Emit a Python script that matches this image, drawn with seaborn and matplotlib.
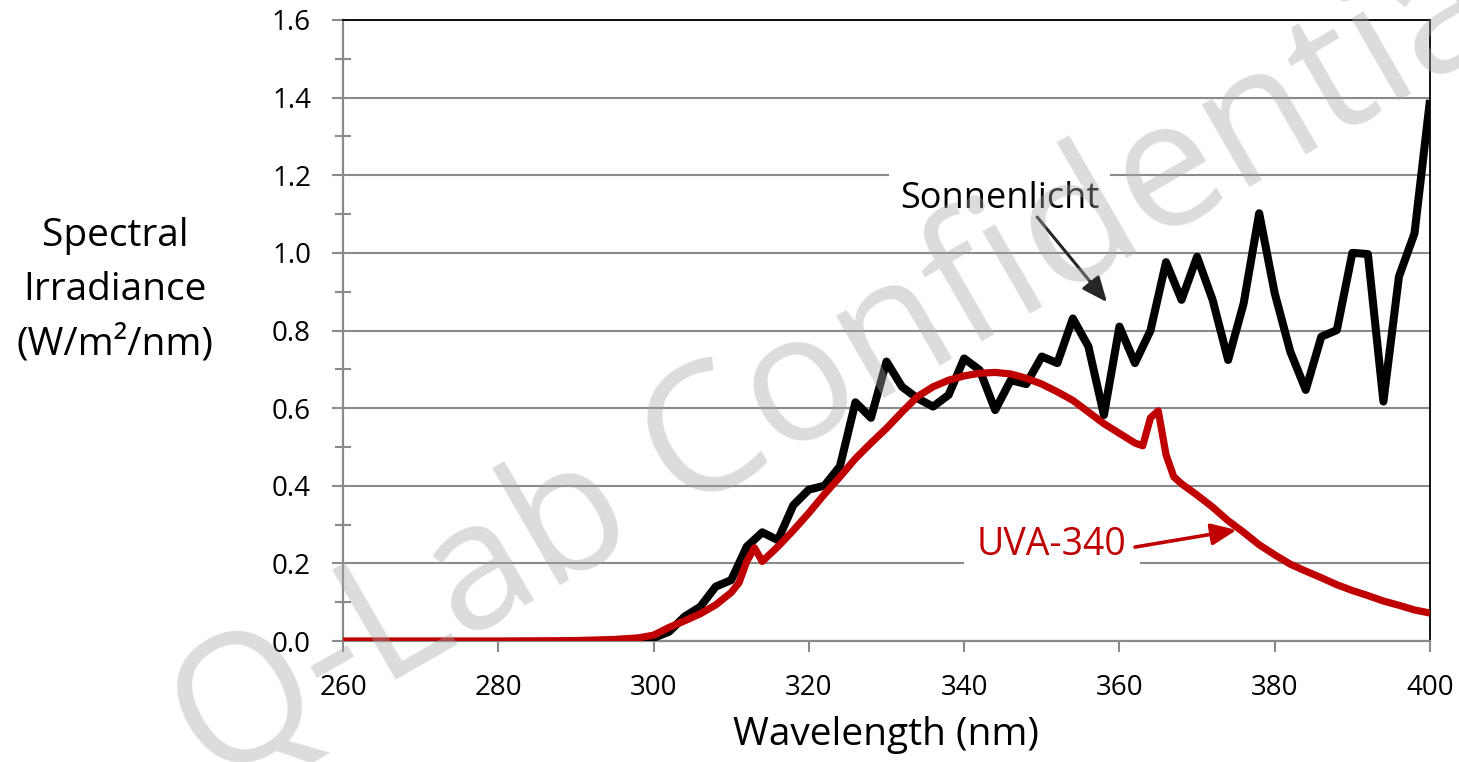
import matplotlib
matplotlib.use("Agg")
import matplotlib.pyplot as plt
import seaborn as sns
import pandas as pd
from matplotlib.ticker import MultipleLocator, FormatStrFormatter

# ---------------- data ----------------
sun_nm = [290, 292, 294, 296, 298, 300, 302, 304, 306, 308, 310, 312, 314, 316, 318,
          320, 322, 324, 326, 328, 330, 332, 334, 336, 338, 340, 342, 344, 346, 348,
          350, 352, 354, 356, 358, 360, 362, 364, 366, 368, 370, 372, 374, 376, 378,
          380, 382, 384, 386, 388, 390, 392, 394, 396, 398, 400]
sun_val = [0.0, 0.0, 0.0, 0.001, 0.003, 0.008, 0.024, 0.063, 0.088, 0.14, 0.157, 0.243,
           0.28, 0.26, 0.35, 0.39, 0.40, 0.45, 0.615, 0.575, 0.72, 0.655, 0.625, 0.604,
           0.634, 0.728, 0.698, 0.595, 0.672, 0.662, 0.733, 0.716, 0.831, 0.759, 0.582,
           0.81, 0.716, 0.80, 0.976, 0.879, 0.99, 0.879, 0.724, 0.87, 1.102, 0.896,
           0.746, 0.647, 0.784, 0.801, 1.0, 0.997, 0.617, 0.939, 1.05, 1.394]

uva_nm = [260, 270, 280, 290, 295, 298, 300, 302, 304, 306, 308, 310, 311, 312, 313,
          314, 316, 318, 320, 322, 324, 326, 328, 330, 332, 334, 336, 338, 340, 342,
          344, 346, 348, 350, 352, 354, 356, 358, 360, 362, 363, 364, 365, 366, 367,
          368, 370, 372, 374, 376, 378, 380, 382, 384, 386, 388, 390, 392, 394, 396,
          398, 400]
uva_val = [0.0, 0.0, 0.0, 0.001, 0.004, 0.008, 0.015, 0.035, 0.052, 0.07, 0.093, 0.125,
           0.15, 0.205, 0.24, 0.205, 0.243, 0.285, 0.33, 0.378, 0.423, 0.47, 0.51, 0.548,
           0.59, 0.63, 0.655, 0.672, 0.683, 0.69, 0.692, 0.688, 0.677, 0.662, 0.642,
           0.62, 0.59, 0.56, 0.535, 0.51, 0.503, 0.575, 0.593, 0.48, 0.423, 0.405, 0.376,
           0.345, 0.31, 0.28, 0.248, 0.222, 0.198, 0.18, 0.163, 0.145, 0.13, 0.117,
           0.103, 0.092, 0.08, 0.072]

x_ticks = [260, 280, 300, 320, 340, 360, 380, 400]
y_ticks = [0.0, 0.2, 0.4, 0.6, 0.8, 1.0, 1.2, 1.4, 1.6]

series_labels = ["Sonnenlicht", "UVA-340"]
x_title = "Wavelength (nm)"
y_title = "Spectral\nIrradiance\n(W/m²/nm)"
watermark = "Q-Lab Confidential"

# ---------------- style ----------------
sns.set_theme(style="white")
plt.rcParams["font.family"] = ["Open Sans", "DejaVu Sans"]

W, H = 1459, 762
fig = plt.figure(figsize=(W / 100, H / 100), dpi=100)
ax = fig.add_axes([343 / W, 1 - 641 / H, (1430 - 343) / W, (641 - 20) / H])

df_sun = pd.DataFrame({"nm": sun_nm, "val": sun_val})
df_uva = pd.DataFrame({"nm": uva_nm, "val": uva_val})

sns.lineplot(data=df_sun, x="nm", y="val", ax=ax, color="#000000", lw=5.8,
             estimator=None, sort=True, zorder=3,
             solid_joinstyle="round", solid_capstyle="butt")
sns.lineplot(data=df_uva, x="nm", y="val", ax=ax, color="#c00000", lw=5.2,
             estimator=None, sort=True, zorder=4,
             solid_joinstyle="round", solid_capstyle="butt")

ax.set_xlim(260, 400)
ax.set_ylim(0, 1.6)
ax.set_xticks(x_ticks)
ax.set_yticks(y_ticks)
ax.yaxis.set_minor_locator(MultipleLocator(0.1))
ax.yaxis.set_major_formatter(FormatStrFormatter("%.1f"))
ax.set_xlabel("")
ax.set_ylabel("")

ax.grid(axis="y", color="#8a8a8a", lw=1.5, zorder=0)
ax.grid(axis="x", visible=False)
ax.set_axisbelow(True)

for s in ["left", "bottom"]:
    ax.spines[s].set_color("#8a8a8a")
    ax.spines[s].set_linewidth(1.6)
for s in ["top", "right"]:
    ax.spines[s].set_color("#000000")
    ax.spines[s].set_linewidth(1.3)

ax.tick_params(axis="both", which="major", direction="out", length=8, width=1.5,
               color="#8a8a8a", labelsize=20, labelcolor="#000000")
ax.tick_params(axis="y", which="major", pad=15, left=True)
ax.tick_params(axis="x", which="major", pad=16, bottom=True)
ax.tick_params(axis="y", which="minor", direction="inout", length=11, width=1.5,
               color="#8a8a8a", left=True)

# axis titles
fig.text(115 / W, 1 - 290 / H, y_title, ha="center", va="center", fontsize=28,
         color="#000000", linespacing=1.55)
fig.text(886 / W, 1 - 735 / H, x_title, ha="center", va="center", fontsize=28,
         color="#000000")

# annotations
ax.text(344.6, 1.116, series_labels[0], ha="center", va="baseline", fontsize=26,
        color="#000000", zorder=5,
        bbox=dict(boxstyle="square,pad=0.3", fc="white", ec="none"))
ax.annotate("", xy=(358.4, 0.873), xytext=(349.4, 1.0925),
            arrowprops=dict(arrowstyle="-|>,head_length=0.7,head_width=0.3",
                            color="#262626", lw=2.2, mutation_scale=22,
                            shrinkA=0, shrinkB=0), zorder=6)

ax.text(351.3, 0.2216, series_labels[1], ha="center", va="baseline", fontsize=27,
        color="#c00000", zorder=5,
        bbox=dict(boxstyle="square,pad=0.35", fc="white", ec="none"))
ax.annotate("", xy=(375.1, 0.286), xytext=(362.0, 0.242),
            arrowprops=dict(arrowstyle="-|>,head_length=0.7,head_width=0.3",
                            color="#c00000", lw=2.6, mutation_scale=22,
                            shrinkA=0, shrinkB=0), zorder=6)

# watermark
fig.text(880 / W, 1 - 400 / H, watermark, ha="center", va="baseline",
         rotation=30, rotation_mode="anchor", fontsize=128, color="#a7a7a7",
         alpha=0.4, zorder=20)

fig.savefig("out.png", dpi=100)
